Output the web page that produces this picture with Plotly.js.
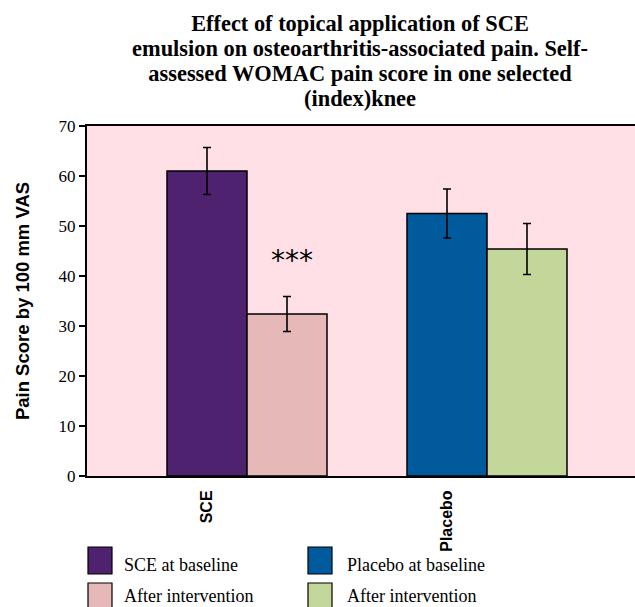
<!DOCTYPE html>
<html><head><meta charset="utf-8">
<script src="https://cdn.plot.ly/plotly-3.0.1.min.js"></script>
<style>body{margin:0;background:#fff}</style></head>
<body><div id="chart" style="width:635px;height:607px"></div>
<script>
// ---- data ----
const groups = ["SCE", "Placebo"];
const seriesNames = ["SCE at baseline", "After intervention", "Placebo at baseline", "After intervention"];
const seriesGroup = ["SCE", "SCE", "Placebo", "Placebo"];
const painScore = [61.0, 32.4, 52.5, 45.4];
const painError = [4.7, 3.5, 4.9, 5.1];
const seriesColors = ["#4F2270", "#E6B9B8", "#005A9C", "#C4D79B"];
const yTickValues = [0, 10, 20, 30, 40, 50, 60, 70];
const titleLines = ["Effect of topical application of SCE",
  "emulsion on osteoarthritis-associated pain. Self-",
  "assessed WOMAC pain score in one selected",
  "(index)knee"];
const significanceMark = "***";
const significanceSeries = 1;

// ---- layout helpers ----
const W = 635, H = 607;
const M = {l: 87, r: 0, t: 126, b: 131};
const pw = W - M.l - M.r, ph = H - M.t - M.b;
const slot = 1 / 3;
const offsets = [-slot / 2, slot / 2, -slot / 2, slot / 2];
const xRange = [-0.5, -0.5 + pw / 240];
const serif = "Times New Roman";
const sans = "Arial";

const traces = seriesNames.map((n, i) => ({
  type: "bar",
  x: [seriesGroup[i]],
  y: [painScore[i]],
  name: n,
  width: slot,
  offset: offsets[i],
  marker: {color: seriesColors[i], line: {color: "#000", width: 1.5}},
  error_y: {type: "data", array: [painError[i]], visible: true, color: "#000", thickness: 1.6, width: 4},
  showlegend: false
}));

// pixel -> paper helpers for legend
const px = v => (v - M.l) / pw;
const py = v => (H - M.b - v) / ph;

const shapes = [];
const annotations = [];
const legendCols = [{sx: 88, tx: 122}, {sx: 308, tx: 345}];
const legendRows = [{y0: 547, y1: 574, ty: 565}, {y0: 583, y1: 609, ty: 596}];
seriesNames.forEach((n, i) => {
  const c = legendCols[Math.floor(i / 2)], r = legendRows[i % 2];
  shapes.push({type: "rect", xref: "paper", yref: "paper", x0: px(c.sx), x1: px(c.sx + 24),
    y0: py(r.y0), y1: py(r.y1), fillcolor: seriesColors[i], line: {color: "#000", width: 1.2}});
  annotations.push({xref: "paper", yref: "paper", x: px(c.tx), y: py(r.ty), xanchor: "left", yanchor: "middle",
    text: n, showarrow: false, font: {family: serif, size: 18, color: "#000"}});
});
annotations.push({
  x: groups.indexOf(seriesGroup[significanceSeries]) + offsets[significanceSeries] + slot / 2 + 0.02,
  y: painScore[significanceSeries] + painError[significanceSeries] + 7.2,
  text: significanceMark, showarrow: false, xanchor: "center", yanchor: "middle",
  font: {family: "DejaVu Sans", size: 28, color: "#000"}
});

const layout = {
  width: W, height: H,
  margin: M,
  font: {family: serif, color: "#000"},
  paper_bgcolor: "#ffffff",
  plot_bgcolor: "#FFE0E6",
  barmode: "overlay",
  title: {
    text: titleLines.map(t => '<span style="font-size:22.4px"><b>' + t + '</b></span>').join("<br>"),
    x: 360 / W, xanchor: "center", yref: "container", y: 0.949, yanchor: "top",
    font: {family: serif, size: 19.3, color: "#000"}
  },
  xaxis: {
    type: "category", categoryarray: groups, range: xRange,
    showline: true, linecolor: "#000", linewidth: 2, mirror: true,
    ticks: "", showgrid: false, zeroline: false,
    tickangle: -90, tickfont: {family: sans, size: 16, color: "#000", weight: "bold"},
    ticklabelstandoff: 6
  },
  xaxis2: {
    overlaying: "x", anchor: "y", side: "bottom", range: xRange,
    tick0: -0.5, dtick: slot, ticks: "outside", ticklen: 6, tickwidth: 1.5, tickcolor: "#000",
    showticklabels: false, showgrid: false, zeroline: false, showline: false
  },
  yaxis: {
    range: [0, 70], tickvals: yTickValues, ticks: "outside", ticklen: 6, tickwidth: 1.5, tickcolor: "#000",
    showline: true, linecolor: "#000", linewidth: 2, showgrid: false, zeroline: false,
    tickfont: {family: serif, size: 17, color: "#000"},
    title: {text: "<b>Pain Score by 100 mm VAS</b>", font: {family: sans, size: 18.5, color: "#000"}, standoff: 24}
  },
  shapes: shapes,
  annotations: annotations
};

Plotly.newPlot("chart", traces, layout, {displayModeBar: false, staticPlot: true});
</script>
</body></html>
